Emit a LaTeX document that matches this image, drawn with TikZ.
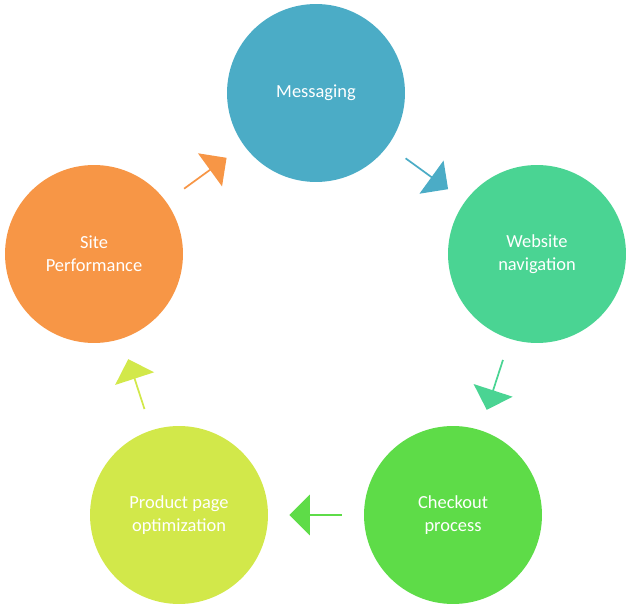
\documentclass[tikz,border=0pt]{standalone}
\usepackage{fontspec}
\setmainfont{Carlito}
\usetikzlibrary{shapes.arrows,calc}
\definecolor{cmsg}{HTML}{4BACC6}
\definecolor{cweb}{HTML}{4AD493}
\definecolor{cchk}{HTML}{5EDC48}
\definecolor{cprd}{HTML}{D2E84A}
\definecolor{csite}{HTML}{F79646}
\tikzset{
  stage/.style={circle,minimum size=3.56cm,inner sep=0pt,text=white,
    align=center,font=\fontsize{10.5}{13}\selectfont},
  blk/.style={single arrow,minimum height=1.05cm,minimum width=0.82cm,
    single arrow head extend=0.16cm,inner sep=0pt,draw=none}
}
\begin{document}
\begin{tikzpicture}[x=0.02cm,y=-0.02cm]
\useasboundingbox (0,0) rectangle (632,607);

\node[stage,fill=cmsg] (msg) at (316,93) {Messaging};
\node[stage,fill=cweb] (web) at (537,254) {Website\\navigation};
\node[stage,fill=cchk] (chk) at (453,515) {Checkout\\process};
\node[stage,fill=cprd] (prd) at (179,515) {Product page\\optimization};
\node[stage,fill=csite] (site) at (94,254) {Site\\Performance};

\node[blk,fill=cmsg,rotate=-36] (a1) at ($(msg)!0.5!(web)$) {};
\node[blk,fill=cweb,rotate=-108] (a2) at ($(web)!0.5!(chk)$) {};
\node[blk,fill=cchk,rotate=180] (a3) at ($(chk)!0.5!(prd)$) {};
\node[blk,fill=cprd,rotate=108] (a4) at ($(prd)!0.5!(site)$) {};
\node[blk,fill=csite,rotate=36] (a5) at ($(site)!0.5!(msg)$) {};
\end{tikzpicture}
\end{document}
